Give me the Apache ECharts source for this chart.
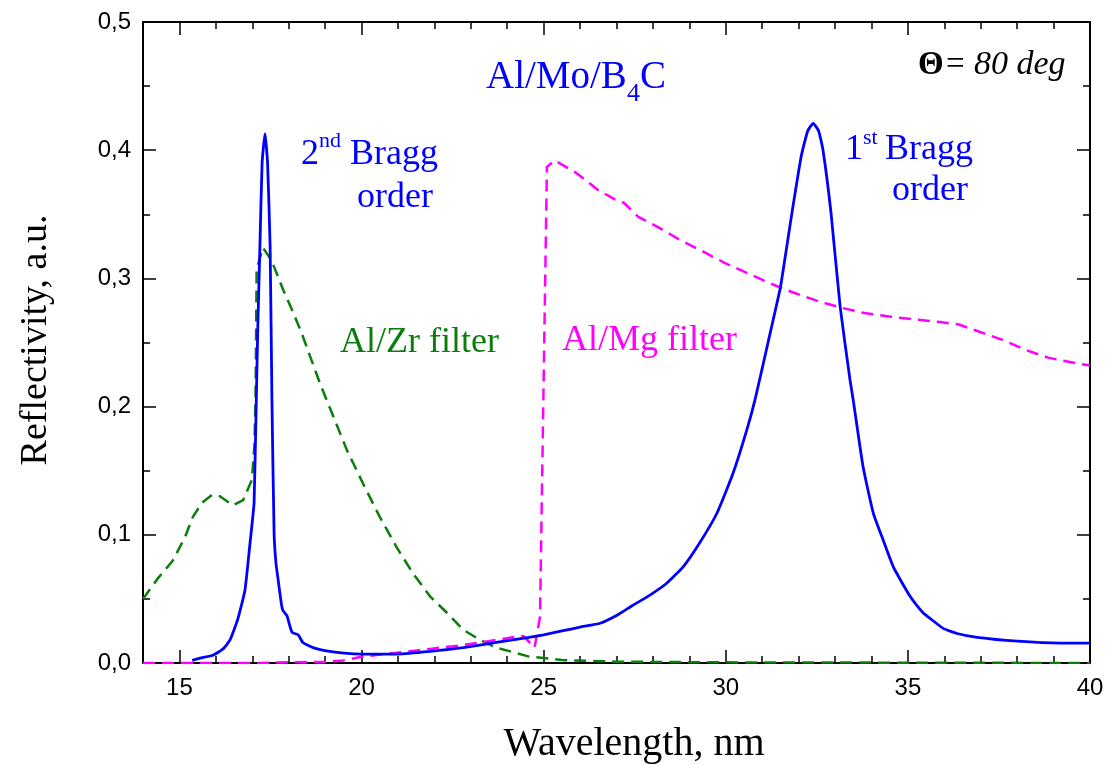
<!DOCTYPE html>
<html>
<head>
<meta charset="utf-8">
<script src="https://cdn.jsdelivr.net/npm/echarts@6/dist/echarts.min.js"></script>
<style>
html,body{margin:0;padding:0;background:#fff;}
#c{width:1109px;height:765px;}
</style>
</head>
<body>
<div id="c"></div>
<script>
// Al/Mo/B4C multilayer reflectivity (blue, solid)
const braggWl = [15.35,15.6,15.92,16.2,16.39,16.6,16.8,16.94,17.0,17.05,17.1,17.15,17.21,17.27,17.35,17.42,17.49,17.54,17.6,17.65,17.7,17.8,17.84,17.95,18.09,18.26,18.39,18.67,19.13,19.6,20.0,21.0,21.88,22.79,23.7,24.6,25.0,25.5,26.0,26.55,27.0,27.45,27.92,28.37,28.83,29.29,29.76,30.2,30.58,30.8,31.24,31.5,31.8,32.07,32.25,32.4,32.55,32.67,32.89,33.14,33.41,33.5,33.77,34.05,34.32,34.6,35.06,35.42,35.6,35.97,36.35,36.9,38.0,39.18,40.0];
const braggR  = [0.002,0.004,0.006,0.011,0.018,0.034,0.057,0.094,0.11,0.125,0.19,0.26,0.325,0.39,0.413,0.39,0.325,0.205,0.1,0.078,0.067,0.046,0.041,0.037,0.024,0.022,0.016,0.012,0.009,0.0075,0.007,0.007,0.009,0.012,0.016,0.020,0.022,0.025,0.028,0.031,0.037,0.045,0.053,0.062,0.075,0.094,0.117,0.148,0.182,0.205,0.26,0.293,0.348,0.395,0.415,0.421,0.415,0.40,0.351,0.278,0.221,0.205,0.153,0.117,0.096,0.075,0.052,0.039,0.035,0.027,0.023,0.020,0.017,0.0155,0.0155];
// Al/Zr filter (green, dashed)
const zrWl = [14.0,14.38,14.82,15.15,15.37,15.62,15.89,16.11,16.47,16.75,16.99,17.06,17.09,17.12,17.29,17.53,17.85,18.13,18.36,18.59,18.86,19.13,19.6,20.04,20.5,20.97,21.41,21.88,22.35,22.79,23.25,23.7,24.6,25.5,27.0,30.0,40.0];
const zrR  = [0.05,0.065,0.080,0.098,0.114,0.125,0.131,0.130,0.123,0.127,0.143,0.17,0.205,0.307,0.324,0.314,0.291,0.273,0.257,0.239,0.218,0.199,0.166,0.140,0.114,0.090,0.070,0.052,0.039,0.026,0.018,0.012,0.005,0.0023,0.001,0.0005,0.0];
// Al/Mg filter (magenta, dashed)
const mgWl = [14.0,17.0,19.0,19.5,20.04,20.97,21.88,22.79,23.7,24.16,24.45,24.75,24.9,25.09,25.3,25.86,26.49,27.0,27.2,27.6,28.14,28.74,29.37,29.98,30.6,31.23,31.85,32.56,33.19,33.8,34.54,35.16,35.89,36.4,37.0,37.6,38.25,38.87,39.6,40.0];
const mgR  = [0.0,0.0,0.001,0.002,0.005,0.008,0.011,0.014,0.018,0.020,0.021,0.012,0.036,0.387,0.392,0.383,0.369,0.361,0.359,0.348,0.340,0.330,0.321,0.312,0.304,0.296,0.289,0.282,0.277,0.273,0.270,0.268,0.266,0.264,0.258,0.252,0.244,0.238,0.234,0.232];
// axis ticks
const xMajor = [15,20,25,30,35,40];
const yTicks = [0,0.1,0.2,0.3,0.4,0.5];

const zip = (a,b) => a.map((v,i)=>[v,b[i]]);
const serif = '"Liberation Serif","Times New Roman",serif';
const sans = '"Liberation Sans",Arial,sans-serif';
const BLUE = '#0000ff', GREEN = '#0a7d0a', MAG = '#ff00ff';

const chart = echarts.init(document.getElementById('c'), null, {renderer:'canvas'});
const lineAxis = {show:true, lineStyle:{color:'#000', width:2}};
const minorX = (pos) => ({type:'value', position:pos, min:14, max:40, interval:1,
  axisLine:lineAxis, axisTick:{show:true, inside:true, length:7, lineStyle:{color:'#000', width:1.5}},
  axisLabel:{show:false}, splitLine:{show:false}});
const majorX = (pos, lab) => ({type:'value', position:pos, min:14, max:40,
  axisLine:{show:false},
  axisTick:{show:true, inside:true, length:13, customValues:xMajor, lineStyle:{color:'#000', width:1.5}},
  axisLabel:{show:lab, customValues:xMajor, fontSize:24, fontFamily:sans, color:'#000', margin:13},
  splitLine:{show:false}});
const yAx = (pos, lab) => ({type:'value', position:pos, min:0, max:0.5, interval:0.1,
  axisLine:lineAxis,
  axisTick:{show:true, inside:true, length:13, lineStyle:{color:'#000', width:1.5}},
  minorTick:{show:true, splitNumber:2, length:7, lineStyle:{color:'#000', width:1.5}},
  axisLabel:{show:lab, fontSize:24, fontFamily:sans, color:'#000', margin:12,
    formatter:(v)=>v.toFixed(1).replace('.',',')},
  splitLine:{show:false}, minorSplitLine:{show:false}});

const txt = (x,y,text,opt) => ({type:'text', x:x, y:y, z:100,
  style:Object.assign({text:text, fontFamily:serif, fontSize:36, fill:'#000', textAlign:'left', textVerticalAlign:'middle'}, opt||{})});

chart.setOption({
  animation:false,
  backgroundColor:'#fff',
  grid:{left:143, right:19, top:22, bottom:102, containLabel:false},
  xAxis:[minorX('bottom'), majorX('bottom', true), minorX('top'), majorX('top', false)],
  yAxis:[yAx('left', true), yAx('right', false)],
  series:[
    {type:'line', name:'Al/Zr filter', xAxisIndex:0, yAxisIndex:0, data:zip(zrWl,zrR), showSymbol:false, smooth:false,
      lineStyle:{color:GREEN, width:2.5, type:[12,7]}, z:2},
    {type:'line', name:'Al/Mg filter', xAxisIndex:0, yAxisIndex:0, data:zip(mgWl,mgR), showSymbol:false, smooth:false,
      lineStyle:{color:MAG, width:2.5, type:[12,7]}, z:3},
    {type:'line', name:'Al/Mo/B4C', xAxisIndex:0, yAxisIndex:0, data:zip(braggWl,braggR), showSymbol:false, smooth:0.15,
      lineStyle:{color:BLUE, width:2.8}, z:4}
  ],
  graphic:[
    // axis titles
    {type:'text', x:36, y:340, rotation:Math.PI/2, z:100,
      style:{text:'Reflectivity, a.u.', fontFamily:serif, fontSize:38, fill:'#000', textAlign:'center', textVerticalAlign:'middle'}},
    {type:'text', x:634, y:744, z:100,
      style:{text:'Wavelength, nm', fontFamily:serif, fontSize:40, fill:'#000', textAlign:'center', textVerticalAlign:'middle'}},
    // title
    txt(486, 78, 'Al/Mo/B', {fill:BLUE, fontSize:39}),
    txt(627, 94, '4', {fill:BLUE, fontSize:26}),
    txt(640, 78, 'C', {fill:BLUE, fontSize:39}),
    // 2nd Bragg order
    txt(301, 155, '2', {fill:BLUE}),
    txt(319, 141, 'nd', {fill:BLUE, fontSize:22}),
    txt(350, 155, 'Bragg', {fill:BLUE}),
    txt(395, 198, 'order', {fill:BLUE, textAlign:'center'}),
    // 1st Bragg order
    txt(845, 150, '1', {fill:BLUE}),
    txt(863, 138, 'st', {fill:BLUE, fontSize:22}),
    txt(885, 150, 'Bragg', {fill:BLUE}),
    txt(930, 191, 'order', {fill:BLUE, textAlign:'center'}),
    // filters
    txt(340, 343, 'Al/Zr filter', {fill:GREEN}),
    txt(562, 341, 'Al/Mg filter', {fill:MAG}),
    // angle
    txt(918, 65, 'Θ', {fontSize:33, fontWeight:'bold'}),
    txt(946, 65, '=', {fontSize:33}),
    txt(974, 65, '80 deg', {fontSize:34, fontStyle:'italic'})
  ]
});
</script>
</body>
</html>
